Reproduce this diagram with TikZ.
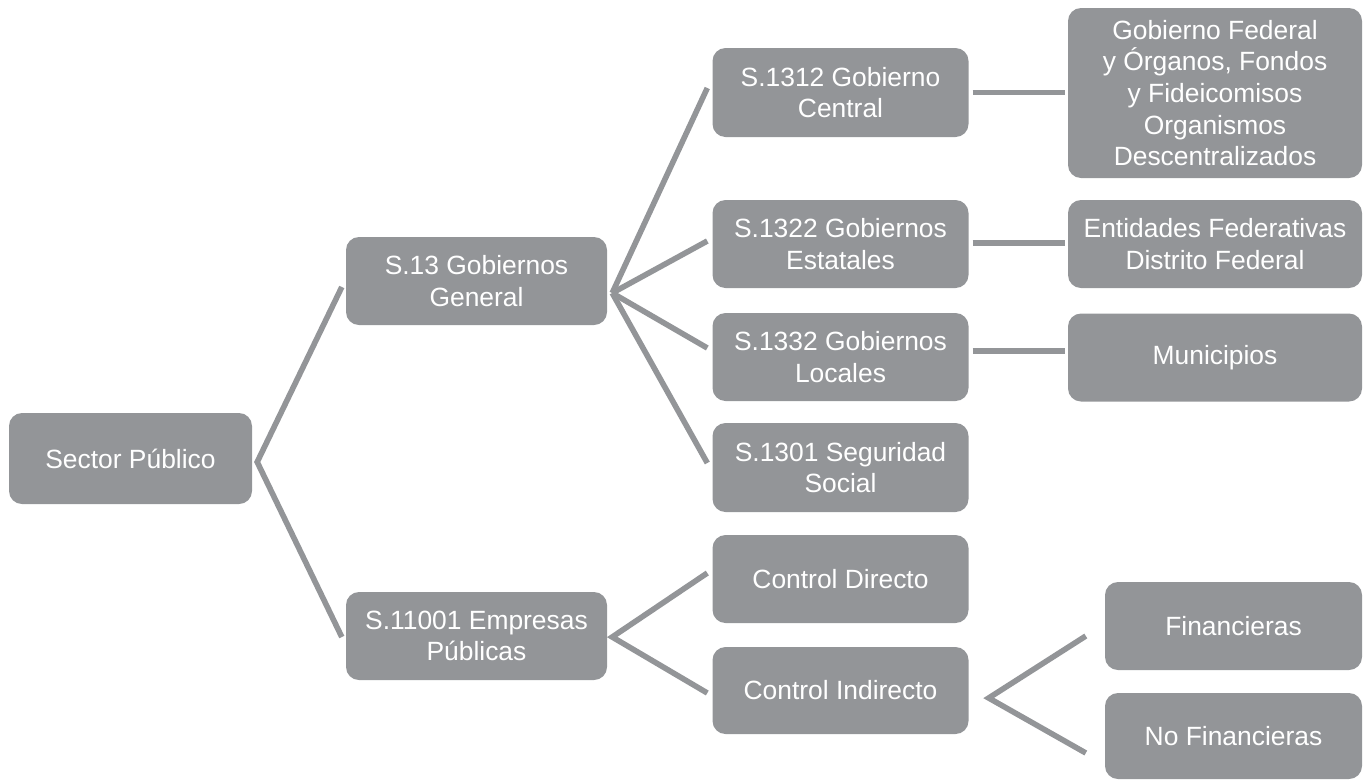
\documentclass[tikz,border=0pt]{standalone}
\usepackage{fontspec}
\setmainfont{Liberation Sans}
\definecolor{boxgray}{HTML}{939598}
\begin{document}
\begin{tikzpicture}[x=1pt, y=-1pt,
  box/.style={rectangle, rounded corners=13pt, fill=boxgray, text=white,
    align=center, inner sep=0pt, font=\fontsize{26.4}{31.7}\selectfont},
  midbox/.style={box, minimum width=256pt, minimum height=88pt},
  link/.style={draw=boxgray, line width=5.6pt}]

  \useasboundingbox (0,0) rectangle (1363,780);

  % Root
  \node[box, minimum width=243pt, minimum height=91pt] (sector) at (130.5,458.5) {Sector Público};

  % Second level
  \node[box, minimum width=261pt, minimum height=88pt] (gobgen) at (476.5,281) {S.13 Gobiernos\\General};
  \node[box, minimum width=261pt, minimum height=88pt] (empresas) at (476.5,636) {S.11001 Empresas\\Públicas};

  % Third level
  \node[midbox, minimum height=89pt] (central) at (840.5,92.5) {S.1312 Gobierno\\Central};
  \node[midbox] (estatales) at (840.5,244) {S.1322 Gobiernos\\Estatales};
  \node[midbox] (locales) at (840.5,357) {S.1332 Gobiernos\\Locales};
  \node[midbox, minimum height=89pt] (seguridad) at (840.5,467.5) {S.1301 Seguridad\\Social};
  \node[midbox] (directo) at (840.5,579) {Control Directo};
  \node[midbox, minimum height=87pt] (indirecto) at (840.5,690.5) {Control Indirecto};

  % Fourth level
  \node[box, minimum width=294pt, minimum height=170pt] (federal) at (1215,93)
    {Gobierno Federal\\y Órganos, Fondos\\y Fideicomisos\\Organismos\\Descentralizados};
  \node[box, minimum width=294pt, minimum height=88pt] (entidades) at (1215,244) {Entidades Federativas\\Distrito Federal};
  \node[box, minimum width=294pt, minimum height=88pt] (municipios) at (1215,357.5) {Municipios};
  \node[box, minimum width=257pt, minimum height=88pt] (financieras) at (1233.5,626) {Financieras};
  \node[box, minimum width=257pt, minimum height=86pt] (nofinancieras) at (1233.5,736) {No Financieras};

  % Fork points
  \coordinate (sector-fork) at ([shift={(5,3.5)}]sector.east);
  \coordinate (gobgen-fork) at ([shift={(5,12)}]gobgen.east);
  \coordinate (empresas-fork) at ([shift={(5,1)}]empresas.east);
  \coordinate (indirecto-fork) at ([shift={(20,7.5)}]indirecto.east);

  % Sector Publico branches
  \draw[link] ([shift={(-4,6)}]gobgen.west) -- (sector-fork) -- ([shift={(-4,1)}]empresas.west);

  % Gobiernos General branches
  \foreach \n/\dy in {central/-4.5, estatales/-3, locales/-9, seguridad/-4.5}
    \draw[link] (gobgen-fork) -- ([shift={(-5,\dy)}]\n.west);

  % Empresas Publicas branches
  \draw[link] ([shift={(-5,-6)}]directo.west) -- (empresas-fork) -- ([shift={(-5,2.5)}]indirecto.west);

  % Control Indirecto branches
  \draw[link] ([shift={(-19,10)}]financieras.west) -- (indirecto-fork) -- ([shift={(-19,17)}]nofinancieras.west);

  % Third to fourth level
  \draw[link] ([xshift=4]central.east) -- ([xshift=-3]central.east -| federal.west);
  \draw[link] ([shift={(4,-1)}]estatales.east) -- ([shift={(-3,-1)}]estatales.east -| entidades.west);
  \draw[link] ([shift={(4,-6)}]locales.east) -- ([shift={(-3,-6)}]locales.east -| municipios.west);

\end{tikzpicture}
\end{document}
